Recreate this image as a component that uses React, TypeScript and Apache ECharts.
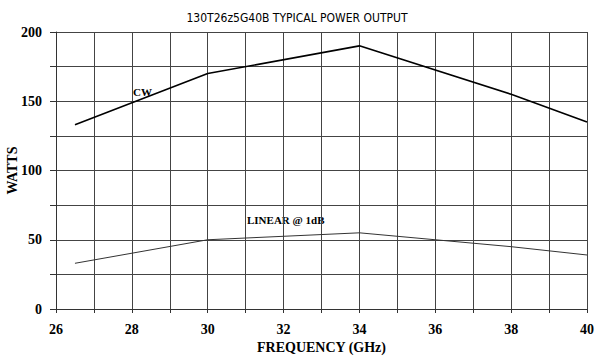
import React, { useEffect, useRef } from "react";
import * as echarts from "echarts";

const cwFreq = [26.5, 30, 34, 38, 40];
const cwWatts = [133, 170, 190, 155, 135];
const linFreq = [26.5, 30, 32, 34, 36, 38, 40];
const linWatts = [33, 50, 52.5, 55, 50, 45, 39];
const titleText = "130T26z5G40B TYPICAL POWER OUTPUT";
const xName = "FREQUENCY (GHz)";
const yName = "WATTS";

export default function App() {
  const ref = useRef<HTMLDivElement>(null);
  useEffect(() => {
    const chart = echarts.init(ref.current!, null, { renderer: "svg" });
    const serif = "'Liberation Serif', 'Times New Roman', serif";
    chart.setOption({
      animation: false,
      backgroundColor: "#fff",
      title: {
        text: titleText,
        left: 292,
        textAlign: "center",
        top: 7,
        textStyle: { fontFamily: "'DejaVu Sans Condensed', 'Liberation Sans', sans-serif", fontSize: 12, fontWeight: "normal", color: "#000" },
      },
      grid: { left: 56, right: 13, top: 32, bottom: 49, containLabel: false, outerBoundsMode: "none" },
      xAxis: {
        type: "value",
        min: 26,
        max: 40,
        interval: 1,
        name: xName,
        nameLocation: "middle",
        nameGap: 31,
        nameMoveOverlap: false,
        nameTextStyle: { fontFamily: serif, fontWeight: "bold", fontSize: 14, color: "#000" },
        axisLine: { lineStyle: { color: "#333", width: 1 } },
        axisTick: { show: true, length: 4, lineStyle: { color: "#333" } },
        axisLabel: {
          fontFamily: serif,
          fontWeight: "bold",
          fontSize: 14,
          color: "#000",
          margin: 13,
          formatter: (v: number) => (v % 2 === 0 ? String(v) : ""),
        },
        splitLine: { show: true, lineStyle: { color: "#444", width: 1 } },
      },
      yAxis: {
        type: "value",
        min: 0,
        max: 200,
        interval: 25,
        name: yName,
        nameLocation: "middle",
        nameGap: 37,
        nameMoveOverlap: false,
        nameTextStyle: { fontFamily: serif, fontWeight: "bold", fontSize: 14, color: "#000" },
        axisLine: { show: true, lineStyle: { color: "#333", width: 1 } },
        axisTick: { show: true, length: 6, lineStyle: { color: "#333" } },
        axisLabel: {
          fontFamily: serif,
          fontWeight: "bold",
          fontSize: 14,
          color: "#000",
          margin: 14,
          formatter: (v: number) => (v % 50 === 0 ? String(v) : ""),
        },
        splitLine: { show: true, lineStyle: { color: "#444", width: 1 } },
      },
      graphic: [
        { type: "text", left: 133, top: 86, style: { text: "CW", font: `bold 11px ${serif}`, fill: "#000" } },
        { type: "text", left: 247, top: 214, style: { text: "LINEAR @ 1dB", font: `bold 11px ${serif}`, fill: "#000" } },
      ],
      series: [
        {
          type: "line",
          data: cwFreq.map((f, i) => [f, cwWatts[i]]),
          symbol: "none",
          lineStyle: { color: "#000", width: 1.6 },
        },
        {
          type: "line",
          data: linFreq.map((f, i) => [f, linWatts[i]]),
          symbol: "none",
          lineStyle: { color: "#333", width: 1 },
        },
      ],
    });
    return () => chart.dispose();
  }, []);
  return <div ref={ref} style={{ width: 600, height: 358, position: "absolute", left: 0, top: 0 }} />;
}
